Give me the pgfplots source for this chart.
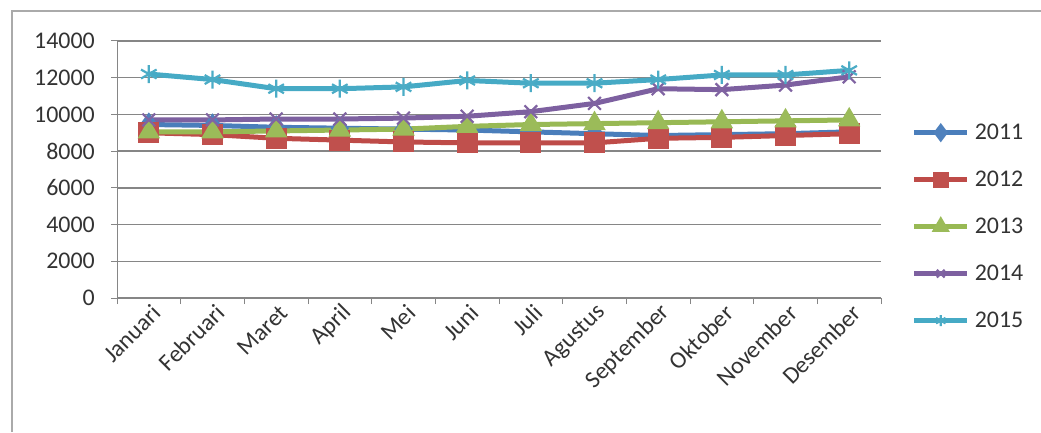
\documentclass[border=0pt]{standalone}
\usepackage{pgfplots}
\pgfplotsset{compat=1.18}
\usepackage{fontspec}
\setmainfont{Carlito}
\definecolor{c11}{HTML}{4A7EBB}
\definecolor{c12}{HTML}{BE4B48}
\definecolor{c13}{HTML}{98B954}
\definecolor{c14}{HTML}{7D60A0}
\definecolor{c15}{HTML}{46AAC5}
\definecolor{m11}{HTML}{4F81BD}
\definecolor{m12}{HTML}{C0504D}
\definecolor{m13}{HTML}{9BBB59}
\definecolor{m14}{HTML}{8064A2}
\definecolor{m15}{HTML}{4BACC6}
\definecolor{gridc}{HTML}{868686}
\definecolor{txt}{HTML}{333333}
\begin{document}
\begin{tikzpicture}[x=1bp,y=1bp]
\useasboundingbox (0,0) rectangle (1041,432);
\draw[gridc!70, line width=1.5bp] (12,0) -- (12,421) -- (1041,421);
\begin{axis}[
  at={(117bp,134bp)}, anchor=south west,
  scale only axis, width=764bp, height=257bp,
  xmin=-0.5, xmax=11.5, ymin=0, ymax=14000,
  axis x line*=bottom, axis y line*=left,
  axis line style={gridc, line width=1bp},
  ytick={0,2000,...,14000},
  xtick={0,...,11},
  xticklabels={Januari,Februari,Maret,April,Mei,Juni,Juli,Agustus,September,Oktober,November,Desember},
  minor xtick={-0.5,0.5,...,11.5},
  major x tick style={draw=none},
  minor x tick style={gridc, line width=1bp},
  y tick style={gridc, line width=1bp},
  tick align=outside, major tick length=6bp, minor tick length=6bp,
  ymajorgrids, grid style={gridc, line width=1.5bp},
  ticklabel style={font=\fontsize{24}{28}\selectfont, text=txt},
  xticklabel style={rotate=45, anchor=east, inner sep=2bp, yshift=-9bp, xshift=4bp},
  yticklabel style={inner sep=2bp, xshift=-14bp},
  /pgf/number format/assume math mode=true,
  /pgf/number format/set thousands separator={},
  scaled y ticks=false,
  legend style={draw=none, fill=none, at={(axis description cs:1.04,0.685)}, anchor=north west,
    font=\fontsize{24}{28}\selectfont, text=txt, row sep=26bp, inner sep=0pt,
    nodes={inner xsep=5bp}},
  legend cell align=left,
  legend image code/.code={
    \draw[#1, mark=none] (0bp,0bp) -- (53bp,0bp);
    \draw[#1, mark size=5.5bp] plot coordinates {(26.5bp,0bp)};
  },
  every axis plot/.append style={line width=5bp, mark size=8bp, mark options={line width=1.5bp, solid}},
]
\addplot[c11, mark=diamond*, mark options={fill=m11, draw=m11}] coordinates {
(0,9450)(1,9400)(2,9300)(3,9250)(4,9200)(5,9150)(6,9050)(7,8950)(8,8850)(9,8900)(10,8950)(11,9050)};
\addlegendentry{2011}
\addplot[c12, mark=square*, mark options={fill=m12, draw=m12}] coordinates {
(0,9000)(1,8900)(2,8700)(3,8600)(4,8500)(5,8450)(6,8450)(7,8450)(8,8700)(9,8750)(10,8850)(11,8950)};
\addlegendentry{2012}
\addplot[c13, mark=triangle*, mark options={fill=m13, draw=m13}] coordinates {
(0,9050)(1,9050)(2,9100)(3,9150)(4,9200)(5,9350)(6,9450)(7,9500)(8,9550)(9,9600)(10,9650)(11,9700)};
\addlegendentry{2013}
\addplot[c14, mark=x, mark size=9bp, mark options={draw=m14, line width=2.2bp}] coordinates {
(0,9700)(1,9700)(2,9750)(3,9750)(4,9800)(5,9900)(6,10150)(7,10600)(8,11400)(9,11350)(10,11600)(11,12050)};
\addlegendentry{2014}
\addplot[c15, mark=asterisk, mark size=9bp, mark options={draw=m15, line width=2.2bp}] coordinates {
(0,12200)(1,11900)(2,11400)(3,11400)(4,11500)(5,11850)(6,11700)(7,11700)(8,11900)(9,12150)(10,12150)(11,12400)};
\addlegendentry{2015}
\end{axis}
\end{tikzpicture}
\end{document}
